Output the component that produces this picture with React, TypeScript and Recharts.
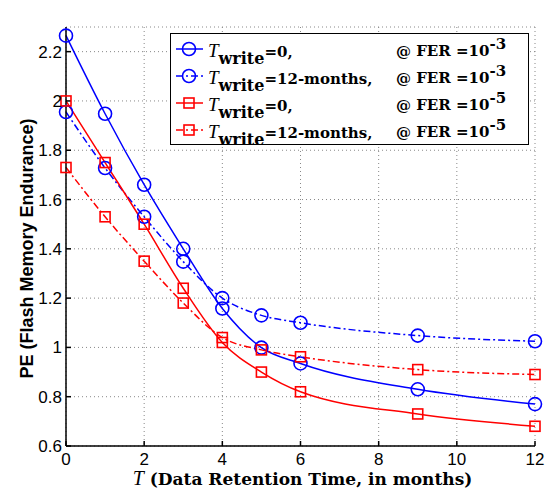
import React from 'react'
import { LineChart, Line, XAxis, YAxis, CartesianGrid, Legend, Label } from 'recharts'

// retention time in months
const months = [0, 1, 2, 3, 4, 5, 6, 9, 12]
// PE cycles, T_write = 0, FER = 1e-3
const peW0Fer3 = [22650, 19480, 16600, 14000, 11580, 9990, 9350, 8300, 7700]
// PE cycles, T_write = 12 months, FER = 1e-3
const peW12Fer3 = [19550, 17280, 15300, 13480, 12000, 11300, 11000, 10480, 10250]
// PE cycles, T_write = 0, FER = 1e-5
const peW0Fer5 = [20000, 17500, 15000, 12400, 10200, 9000, 8200, 7300, 6800]
// PE cycles, T_write = 12 months, FER = 1e-5
const peW12Fer5 = [17300, 15300, 13500, 11800, 10400, 9900, 9620, 9100, 8900]

const xTicks = [0, 2, 4, 6, 8, 10, 12]
const yTicks = [6000, 8000, 10000, 12000, 14000, 16000, 18000, 20000, 22000]

const BLUE = '#0000ff'
const RED = '#ff0000'
const DASHDOT = '7 3 2 3'
const SANS = '"Liberation Sans", Arial, sans-serif'
const SERIF = '"DejaVu Serif", serif'

const data = months.map((m, i) => ({
  m,
  a: peW0Fer3[i],
  b: peW12Fer3[i],
  c: peW0Fer5[i],
  d: peW12Fer5[i],
}))

const legendRows = [
  { color: BLUE, shape: 'circle', dash: undefined, tw: '=0,', exp: '-3' },
  { color: BLUE, shape: 'circle', dash: DASHDOT, tw: '=12-months,', exp: '-3' },
  { color: RED, shape: 'square', dash: undefined, tw: '=0,', exp: '-5' },
  { color: RED, shape: 'square', dash: DASHDOT, tw: '=12-months,', exp: '-5' },
]

const circleDot = (color: string) => (props: any) => (
  <circle key={`c-${props.index}`} cx={props.cx} cy={props.cy} r={6.5} fill="none" stroke={color} strokeWidth={1.6} />
)

const squareDot = (color: string) => (props: any) => (
  <rect key={`s-${props.index}`} x={props.cx - 5} y={props.cy - 5} width={10} height={10} fill="none" stroke={color} strokeWidth={1.6} />
)

function LegendBox() {
  return (
    <div
      style={{
        border: '1.5px solid #000',
        background: '#fff',
        padding: '1px 0',
        width: 357,
        fontFamily: SERIF,
        fontWeight: 'bold',
        fontSize: 15,
        color: '#000',
      }}
    >
      {legendRows.map((r, i) => (
        <div key={i} style={{ display: 'flex', alignItems: 'center', height: 27, whiteSpace: 'nowrap' }}>
          <svg width={33} height={20} style={{ marginLeft: 4, flex: 'none' }}>
            <line x1={1} x2={28} y1={10} y2={10} stroke={r.color} strokeWidth={1.5} strokeDasharray={r.dash} />
            {r.shape === 'circle' ? (
              <circle cx={14} cy={10} r={6.5} fill="none" stroke={r.color} strokeWidth={1.6} />
            ) : (
              <rect x={9} y={5} width={10} height={10} fill="none" stroke={r.color} strokeWidth={1.6} />
            )}
          </svg>
          <span style={{ width: 188, flex: 'none', position: 'relative', top: 2 }}>
            <span style={{ fontFamily: '"Liberation Serif", serif', fontStyle: 'italic', fontWeight: 'normal', fontSize: 19 }}>T</span>
            <span style={{ position: 'relative', top: 7, fontSize: 16 }}>write</span>
            <span>{r.tw}</span>
          </span>
          <span style={{ position: 'relative', top: 2 }}>
            @ FER =10
            <span style={{ position: 'relative', top: -7, fontSize: 15 }}>{r.exp}</span>
          </span>
        </div>
      ))}
    </div>
  )
}

export default function App() {
  return (
    <div style={{ position: 'absolute', left: 0, top: 0, background: '#fff' }}>
      <LineChart width={556} height={489} data={data} margin={{ top: 27, right: 21, left: 0, bottom: 0 }}>
        <CartesianGrid stroke="#888" strokeDasharray="1 3" strokeWidth={1} />
        <XAxis
          dataKey="m"
          type="number"
          domain={[0, 12]}
          ticks={xTicks}
          height={43}
          stroke="#000"
          strokeWidth={1.5}
          tickSize={-5}
          tickMargin={12}
          tick={{ fill: '#000', fontSize: 17, fontFamily: SANS }}
        >
          <Label
            content={(p: any) => {
              const vb = p.viewBox
              return (
                <text x={vb.x + vb.width / 2 + 2} y={485} textAnchor="middle" fontFamily={SERIF} fontWeight="bold" fontSize={17} fill="#000">
                  <tspan fontFamily='"Liberation Serif", serif' fontStyle="italic" fontWeight="normal" fontSize={20}>T</tspan>
                  <tspan> (Data Retention Time, in months)</tspan>
                </text>
              )
            }}
          />
        </XAxis>
        <XAxis
          xAxisId="top"
          dataKey="m"
          type="number"
          orientation="top"
          domain={[0, 12]}
          ticks={xTicks}
          height={0}
          stroke="#000"
          strokeWidth={1.5}
          tickSize={-5}
          tick={false}
        >
          <Label
            content={(p: any) => {
              const vb = p.viewBox
              return (
                <text x={vb.x} y={vb.y - 3} fontFamily={SANS} fontSize={17} fill="#000">
                  <tspan>x 10</tspan>
                  <tspan fontSize={12} dy={-9}>4</tspan>
                </text>
              )
            }}
          />
        </XAxis>
        <YAxis
          type="number"
          domain={[6000, 23000]}
          ticks={yTicks}
          width={66}
          stroke="#000"
          strokeWidth={1.5}
          tickSize={-5}
          tickMargin={9}
          allowDataOverflow
          tickFormatter={(v: number) => String(Number((v / 10000).toFixed(1)))}
          tick={{ fill: '#000', fontSize: 17, fontFamily: SANS }}
        >
          <Label
            content={(p: any) => {
              const vb = p.viewBox
              const cx = vb.x + 27
              const cy = vb.y + vb.height / 2 + 12
              return (
                <text x={cx} y={cy} transform={`rotate(-90 ${cx} ${cy})`} textAnchor="middle" dominantBaseline="central" fontFamily={SANS} fontWeight="bold" fontSize={18} fill="#000">
                  PE (Flash Memory Endurance)
                </text>
              )
            }}
          />
        </YAxis>
        <YAxis
          yAxisId="right"
          orientation="right"
          type="number"
          domain={[6000, 23000]}
          ticks={yTicks}
          width={0}
          stroke="#000"
          strokeWidth={1.5}
          tickSize={-5}
          tick={false}
        />
        <Legend
          verticalAlign="middle"
          layout="horizontal"
          wrapperStyle={{ top: 33, left: 170, width: 360 }}
          content={() => <LegendBox />}
        />
        <Line dataKey="a" type="monotone" stroke={BLUE} strokeWidth={1.5} dot={circleDot(BLUE)} isAnimationActive={false} />
        <Line dataKey="b" type="monotone" stroke={BLUE} strokeWidth={1.5} strokeDasharray={DASHDOT} dot={circleDot(BLUE)} isAnimationActive={false} />
        <Line dataKey="c" type="monotone" stroke={RED} strokeWidth={1.5} dot={squareDot(RED)} isAnimationActive={false} />
        <Line dataKey="d" type="monotone" stroke={RED} strokeWidth={1.5} strokeDasharray={DASHDOT} dot={squareDot(RED)} isAnimationActive={false} />
      </LineChart>
    </div>
  )
}
